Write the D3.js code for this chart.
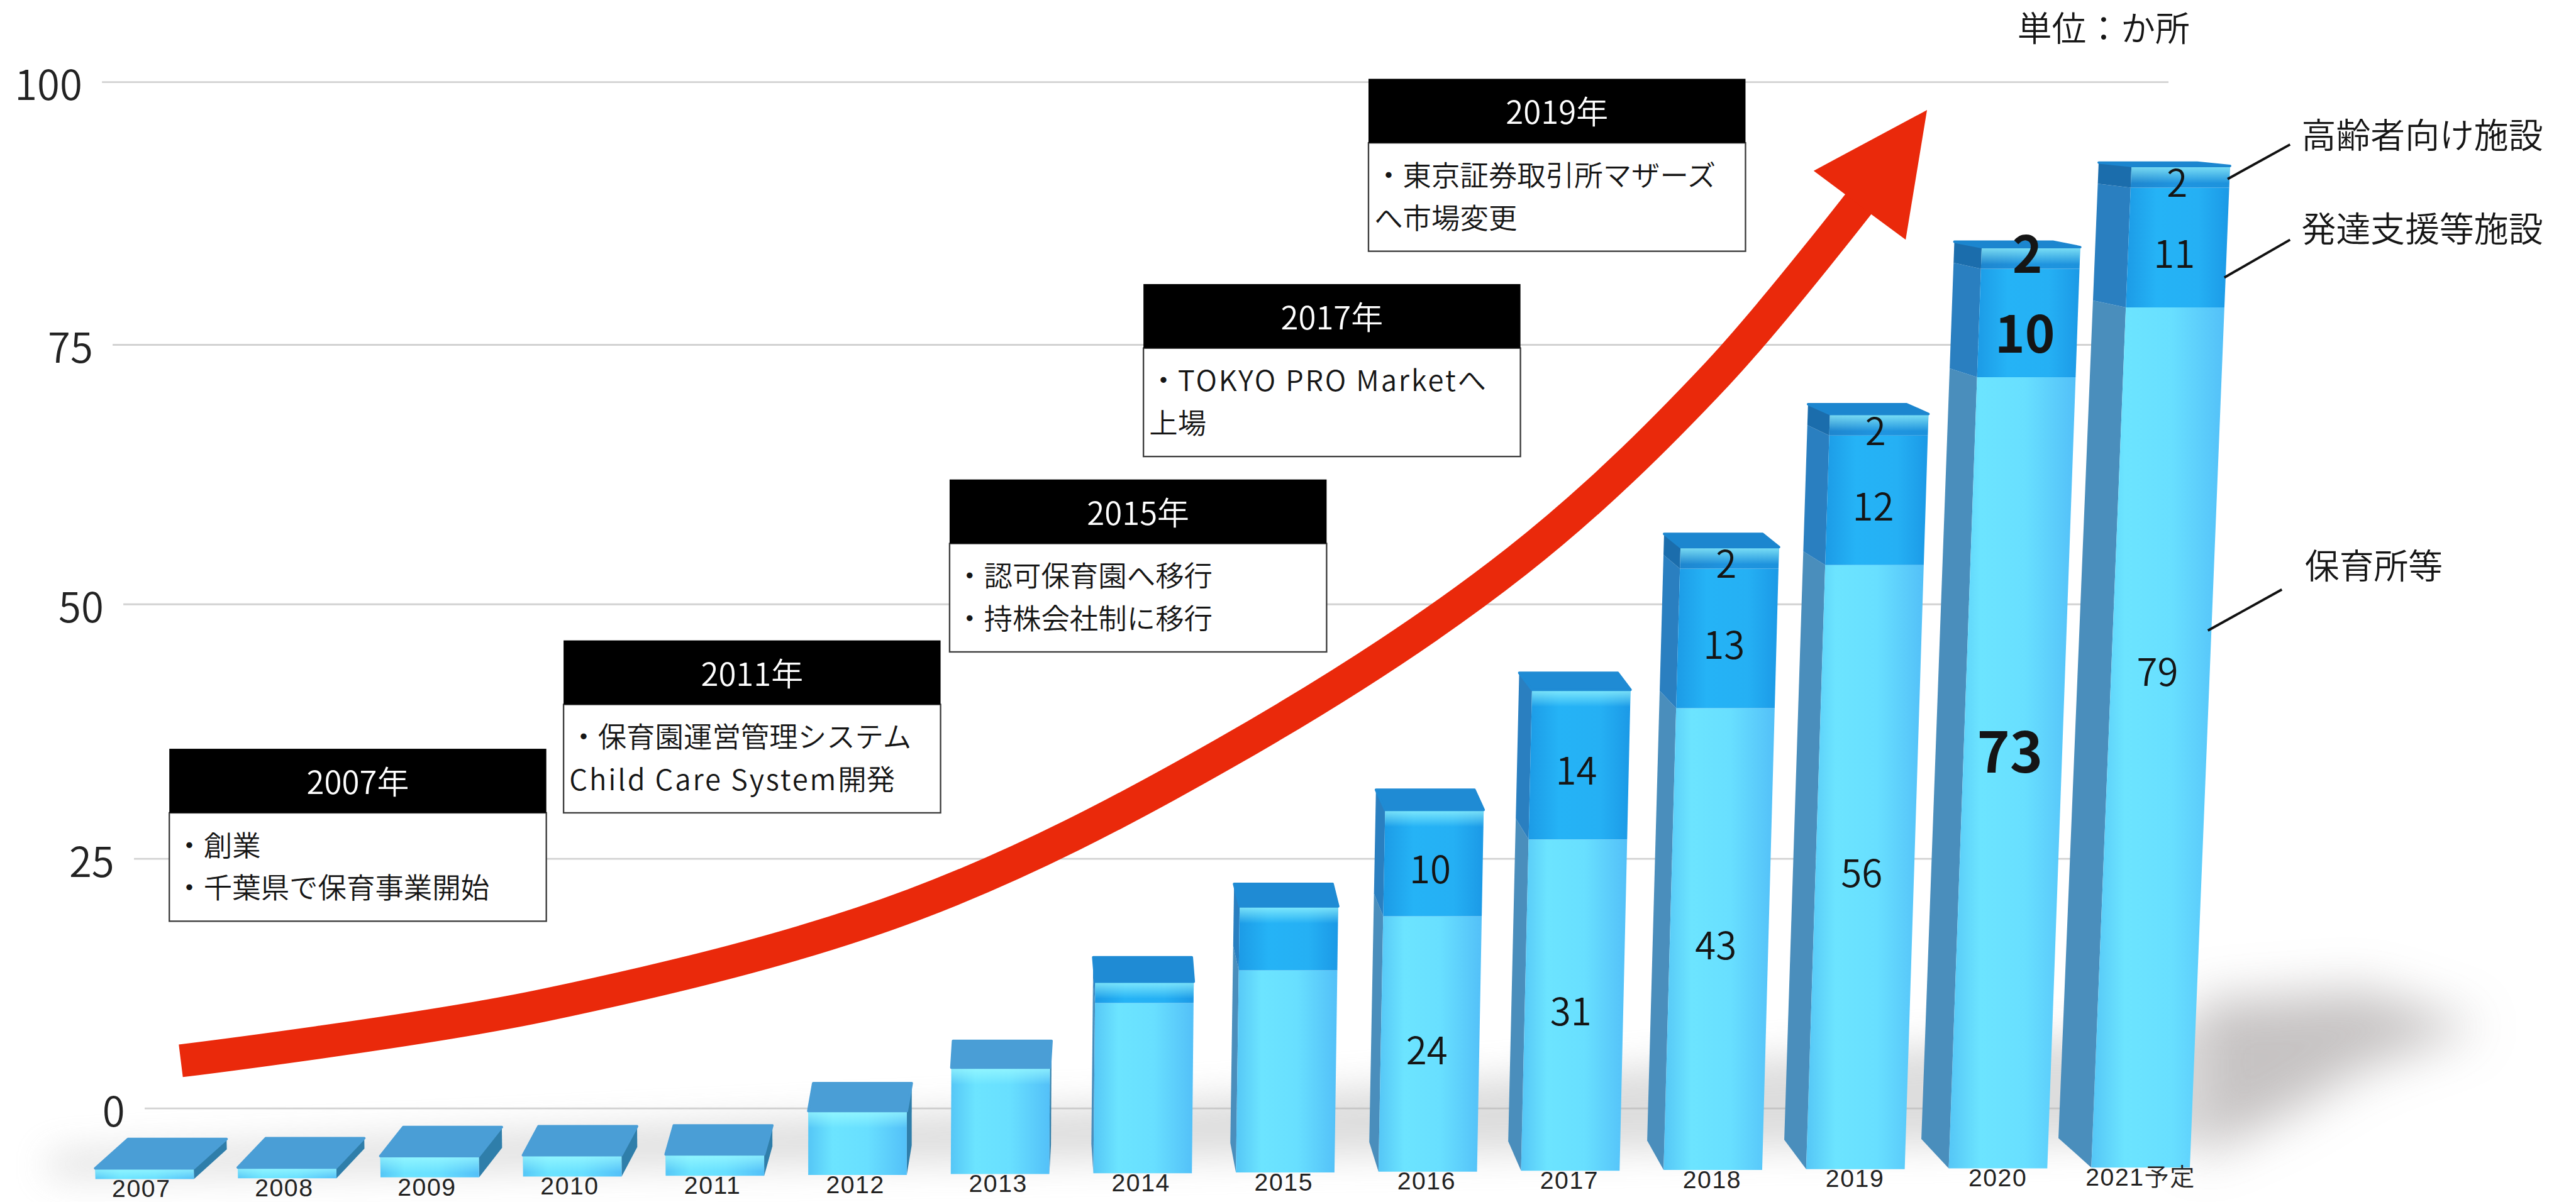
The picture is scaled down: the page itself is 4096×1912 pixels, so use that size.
<!DOCTYPE html>
<html lang="ja"><head><meta charset="utf-8">
<style>html,body{margin:0;padding:0;background:#fff}svg{display:block}text{font-family:"Noto Sans CJK JP","Noto Sans",sans-serif;fill:#151515;font-weight:350}</style>
<script src="https://cdn.jsdelivr.net/npm/d3@7/dist/d3.min.js"></script>
</head><body><div id="chart"></div>
<script>
// ---------- data ----------
const years    = [2007,2008,2009,2010,2011,2012,2013,2014,2015,2016,2017,2018,2019,2020,2021];
const yearText = ["2007","2008","2009","2010","2011","2012","2013","2014","2015","2016","2017","2018","2019","2020","2021予定"];
const nursery  = [1,1,2,2,2,6,10,16,19,24,31,43,56,73,79];   // 保育所等
const support  = [0,0,0,0,0,0,0,2,6,10,14,13,12,10,11];      // 発達支援等施設
const elderly  = [0,0,0,0,0,0,0,0,0,0,0,2,2,2,2];            // 高齢者向け施設
const yTicks   = [0,25,50,75,100];
const calloutYears = ["2007年","2011年","2015年","2017年","2019年"];
const calloutLines = [
  ["・創業","・千葉県で保育事業開始"],
  ["・保育園運営管理システム","Child Care System開発"],
  ["・認可保育園へ移行","・持株会社制に移行"],
  ["・TOKYO PRO Marketへ","上場"],
  ["・東京証券取引所マザーズ","へ市場変更"]
];
const legendNames = ["高齢者向け施設","発達支援等施設","保育所等"];
const unitText = "単位：か所";

// ---------- layout (drawn in the 1568×732 frame, scaled to the window) ----------
const W = 1568, H = 732;
const svg = d3.select("#chart").append("svg").attr("width",4096).attr("height",1912).attr("viewBox",`0 0 ${W} ${H}`);
const defs = svg.append("defs");
function hGrad(id, stops){
  const g = defs.append("linearGradient").attr("id",id);
  stops.forEach(([o,c])=>g.append("stop").attr("offset",o).attr("stop-color",c));
}
hGrad("gLight",[[0,"#55c6f6"],[.25,"#6ce4ff"],[.6,"#68dfff"],[1,"#53c0f8"]]);
hGrad("gMid",[[0,"#1c9be6"],[.3,"#25b3f6"],[.7,"#25b0f4"],[1,"#1b99e6"]]);
hGrad("gCap",[[0,"#1e86cf"],[.5,"#1f95e0"],[1,"#1d92dc"]]);
const hl = defs.append("linearGradient").attr("id","gShine").attr("x1",0).attr("y1",0).attr("x2",0).attr("y2",1);
hl.append("stop").attr("offset",0).attr("stop-color","#9ffcff").attr("stop-opacity",.75);
hl.append("stop").attr("offset",1).attr("stop-color","#9ffcff").attr("stop-opacity",0);
const blurA = defs.append("filter").attr("id","blurA").attr("x","-40%").attr("y","-120%").attr("width","180%").attr("height","340%");
blurA.append("feGaussianBlur").attr("stdDeviation",15);
const blurB = defs.append("filter").attr("id","blurB").attr("x","-10%").attr("y","-150%").attr("width","120%").attr("height","400%");
blurB.append("feGaussianBlur").attr("stdDeviation",11);

// scales
const xBar   = d3.scalePoint().domain(years).range([88,1303]);
const xLabel = d3.scalePoint().domain(yearText).range([86,1303]);
const baseY  = d3.scaleLinear().domain([2007,2021]).range([718,711]);
const unitH  = d3.scaleLinear().domain([2016,2021]).range([6.48,6.63]).clamp(true);
const depthX = d3.scaleLinear().domain([2007,2009,2011,2013,2018,2021]).range([20,14,5,1,-10,-20]);
const depthY = d3.scaleLinear().domain([100,700]).range([2,17.6]);
const yAxisS = d3.scaleLinear().domain(yTicks).range([675,523,368,210,50]);
const xAxisL = d3.scaleLinear().domain([0,100]).range([88,62]);
const HALF = 30;
const yOf = (yr,v)=>baseY(yr)-unitH(yr)*v;
const lean = yr=>(xBar(yr)-500)*0.00005;
function pt(yr,v,side,back){
  let y = yOf(yr,v);
  let x = xBar(yr)+side*HALF+lean(yr)*(baseY(yr)-y);
  if(back){ x += depthX(yr); y -= depthY(y); }
  return [x,y];
}
const poly = d3.line();

// gridlines
svg.append("g").selectAll("line").data(yTicks).join("line")
  .attr("x1",v=>xAxisL(v)).attr("x2",v=>v===100?1320:1300)
  .attr("y1",v=>yAxisS(v)).attr("y2",v=>yAxisS(v))
  .attr("stroke","#d2d2d2").attr("stroke-width",1.1);

// y axis labels
const yG = svg.append("g").call(d3.axisLeft(yAxisS).tickValues(yTicks).tickSize(0).tickPadding(0));
yG.select(".domain").remove();
yG.attr("font-family",null);
yG.selectAll(".tick").attr("transform",v=>`translate(${xAxisL(v)-12},${yAxisS(v)+2})`);
yG.selectAll("text").attr("font-size",25).attr("x",0).attr("dy","0.36em").style("fill","#222");

// floor shadows
const shadow = svg.append("g");
shadow.append("path").attr("d",poly([[30,716],[1340,695],[1340,625],[700,672],[30,703]]))
  .attr("fill","#b4b4b4").attr("opacity",.45).attr("filter","url(#blurB)");
shadow.append("path").attr("d",poly([[1336,610],[1440,603],[1510,625],[1440,650],[1390,680],[1336,705]]))
  .attr("fill","#b3afaf").attr("opacity",.75).attr("filter","url(#blurA)");

// bars
const segs = [
  {vals:nursery, front:"url(#gLight)", side:"#4a8ebc", top:"#4a9ed6"},
  {vals:support, front:"url(#gMid)",   side:"#2a7fc0", top:"#1f8bd4"},
  {vals:elderly, front:"url(#gCap)",   side:"#1b6dac", top:"#1c86cf"}
];
const bars = svg.append("g").selectAll("g").data(years).join("g");
bars.each(function(yr,i){
  const g = d3.select(this);
  let v0 = 0, topSeg = segs[0];
  segs.forEach(s=>{
    const v = s.vals[i]; if(!v) return;
    const v1 = v0+v;
    const sd = depthX(yr)<0?-1:1;
    g.append("path").attr("d",poly([pt(yr,v0,sd,false),pt(yr,v0,sd,true),pt(yr,v1,sd,true),pt(yr,v1,sd,false)])+"Z")
      .attr("fill",depthX(yr)>0?"#2f7eaa":s.side);
    g.append("path").attr("d",poly([pt(yr,v0,-1,false),pt(yr,v0,1,false),pt(yr,v1,1,false),pt(yr,v1,-1,false)])+"Z")
      .attr("fill",s.front);
    v0 = v1; topSeg = s;
  });
  // lit strip under the upper edge of the front face
  g.append("path").attr("d",poly([pt(yr,v0,-1,false),pt(yr,v0,1,false),pt(yr,Math.max(0,v0-1.6),1,false),pt(yr,Math.max(0,v0-1.6),-1,false)])+"Z")
    .attr("fill","url(#gShine)");
  // top face
  g.append("path").attr("d",poly([pt(yr,v0,-1,false),pt(yr,v0,1,false),pt(yr,v0,1,true),pt(yr,v0,-1,true)])+"Z")
    .attr("fill",topSeg.top).attr("stroke",topSeg.top).attr("stroke-width",1.5).attr("stroke-linejoin","round");
});

// x axis labels
const xG = svg.append("g").call(d3.axisBottom(xLabel).tickSize(0).tickPadding(0));
xG.select(".domain").remove();
xG.attr("font-family",null);
xG.selectAll(".tick").attr("transform",(d,i)=>`translate(${xLabel(d)},${baseY(years[i])+5.6})`);
xG.selectAll("text").attr("font-size",15).attr("letter-spacing",.6).attr("y",0).attr("dy","0.36em")
  .style("font-family",'"Liberation Sans","Noto Sans CJK JP",sans-serif').style("fill","#222");

// value labels (only the later years carry numbers)
const firstLabelled = 2016;
const boldYear = 2020;
const baseLift = {2020:2.5, 2021:6.6};
const boldNudge = [0,3,-6];
const labels = svg.append("g").attr("text-anchor","middle");
years.forEach((yr,i)=>{
  if(yr<firstLabelled) return;
  let v0 = 0;
  segs.forEach((s,k)=>{
    const v = s.vals[i]; if(!v) return;
    const mid = v0+v/2+(k===0?(baseLift[yr]||0):0);
    const y = yOf(yr,mid);
    const big = yr===boldYear;
    labels.append("text")
      .attr("x",xBar(yr)+lean(yr)*(baseY(yr)-y)-2)
      .attr("y",y+4+(big?boldNudge[k]:0)).attr("dy","0.36em")
      .attr("font-size",big?(k===0?34:31):23)
      .style("font-weight",big?700:350)
      .text(v);
    v0 += v;
  });
});

// growth arrow
const arrowSpine = [[110,646],[332,612],[556,551],[745,459],[923,342],[1045,228],[1140,113]];
const arrowHead  = [[1173,67],[1160,146],[1139,130.5],[1124,119],[1104,104]];
const arrow = svg.append("g");
arrow.append("path").attr("d",d3.line().curve(d3.curveCatmullRom)(arrowSpine))
  .attr("fill","none").attr("stroke","#ea290b").attr("stroke-width",20);
arrow.append("path").attr("d",poly(arrowHead)+"Z").attr("fill","#ea290b");

// callouts
const boxX = [103,343,578,696,833];
const boxY = [456,390,292,173,48];
const boxW = 229.5, headH = 39, bodyH = 66;
const call = svg.append("g").selectAll("g").data(calloutYears).join("g")
  .attr("transform",(d,i)=>`translate(${boxX[i]},${boxY[i]})`);
call.append("rect").attr("y",headH).attr("width",boxW).attr("height",bodyH).attr("fill","#fff").attr("stroke","#3c3c3c").attr("stroke-width",.9);
call.append("rect").attr("width",boxW).attr("height",headH).attr("fill","#000");
call.append("text").attr("x",boxW/2).attr("y",headH/2+1).attr("dy","0.36em").attr("text-anchor","middle")
  .attr("font-size",19.5).style("fill","#fff").text(d=>d);
call.each(function(d,i){
  const t = d3.select(this).selectAll("text.line").data(calloutLines[i]).join("text").attr("class","line")
    .attr("x",3.5).attr("y",(s,j)=>headH+20+j*26).attr("dy","0.36em").attr("font-size",17.4);
  // Latin runs are set a little wider than the CJK ones
  t.each(function(s){
    d3.select(this).selectAll("tspan").data(s.match(/[\x20-\x7e]+|[^\x20-\x7e]+/g)).join("tspan")
      .attr("letter-spacing",r=>/^[\x20-\x7e]/.test(r)?1.1:0).text(r=>r);
  });
});

// legend and unit
const legY = [82.5,139.5,344.5], legX = [1401,1401,1403];
svg.append("g").selectAll("text").data(legendNames).join("text")
  .attr("x",(d,i)=>legX[i]).attr("y",(d,i)=>legY[i]).attr("dy","0.36em").attr("font-size",21).text(d=>d);
const leaders = [[[1356,109],[1394,88]],[[1354,169],[1394,146]],[[1344,384],[1389,359]]];
svg.append("g").selectAll("path").data(leaders).join("path").attr("d",d=>poly(d))
  .attr("stroke","#111").attr("stroke-width",1.5).attr("fill","none");
svg.append("text").attr("x",1228).attr("y",17.5).attr("dy","0.36em").attr("font-size",21).text(unitText);
</script></body></html>
